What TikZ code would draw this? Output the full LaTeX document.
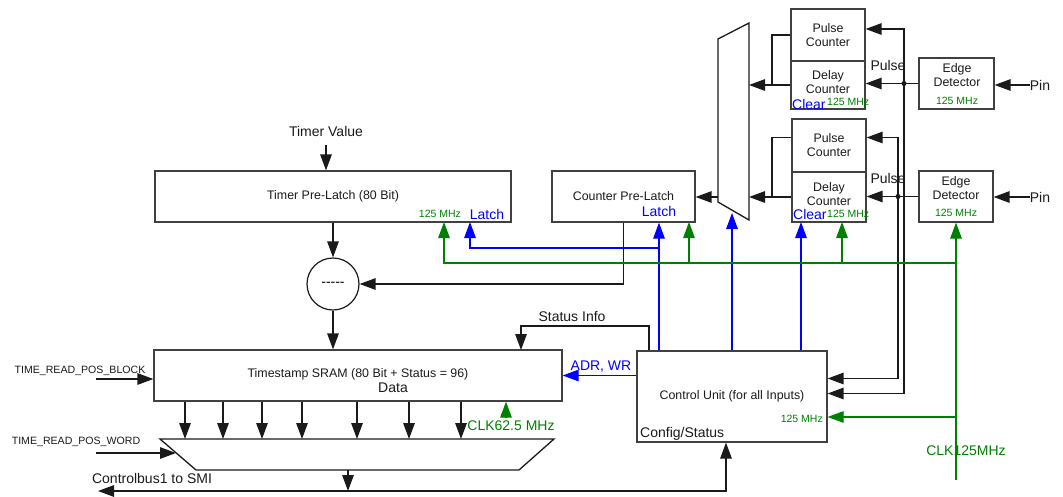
\documentclass[tikz,border=0pt]{standalone}
\usepackage{fontspec}
\setmainfont{Liberation Sans}
\usetikzlibrary{arrows.meta}
\definecolor{tsBlack}{HTML}{1A1A1A}
\definecolor{tsEdge}{HTML}{404040}
\definecolor{tsGreen}{HTML}{008000}
\definecolor{tsBlue}{HTML}{0000FF}
\tikzset{
  ts text/.style={inner sep=0pt, align=center, text=tsBlack, font=\fontsize{12.4}{14}\selectfont},
  ts box/.style={ts text, draw=tsEdge, line width=1.2pt},
  ts label/.style={inner sep=0pt, text=tsBlack, font=\fontsize{14}{16}\selectfont},
  ts blue label/.style={ts label, text=tsBlue},
  ts small/.style={inner sep=0pt, text=tsGreen, font=\fontsize{10.5}{12}\selectfont},
  ts sig/.style={inner sep=0pt, text=tsBlack, font=\fontsize{10.6}{12}\selectfont},
  ts wire/.style={draw=tsBlack, line width=1.3pt},
  ts arrow/.style={ts wire, -{Triangle[length=16pt,width=11.5pt]}},
  ts clk/.style={draw=tsGreen, line width=1.2pt, -{Triangle[length=16pt,width=11.5pt]}},
  ts latch/.style={draw=tsBlue, line width=1.2pt, -{Triangle[length=16pt,width=11.5pt]}},
}

\begin{document}
\begin{tikzpicture}[x=1pt,y=-1pt]
\useasboundingbox (0,0) rectangle (1063,496);
% timer side
\node[ts label](tv)at(326,131){Timer Value};
\node[ts box,minimum width=356pt,minimum height=51pt](tpl)at(333,196.5){Timer Pre-Latch (80 Bit)};
\node[ts small](tplclk)at(440,214){125 MHz};\node[ts blue label](tpllat)at(487,214){Latch};
\node[circle,draw=tsBlack,line width=1.2pt,minimum size=52pt,inner sep=0pt,font=\fontsize{14}{16}\selectfont](sub)at(333,284){-{}-{}-{}-{}-};
\node[ts box,minimum width=143pt,minimum height=51pt](cpl)at(623.5,196.5){Counter Pre-Latch};
\node[ts blue label](cpllat)at(659,211){Latch};
% input mux
\coordinate(m1)at(718,39);\coordinate(m2)at(749,23);\coordinate(m3)at(749,220);\coordinate(m4)at(718,202);
\draw[ts wire](m1)--(m2)--(m3)--(m4)--cycle;
% counters, input 1 and 2
\node[ts box,minimum width=74pt,minimum height=52pt](pc1)at(828,35){Pulse\\Counter};
\node[ts box,minimum width=74pt,minimum height=48pt](dc1)at(828,85){};
\node[ts text](dc1txt)at(828,82){Delay\\Counter};
\node[ts blue label,anchor=west](clr1)at(792,104.5){Clear};\node[ts small,anchor=west](dcclk1)at(827,102){125 MHz};
\node[ts box,minimum width=74pt,minimum height=53pt](pc2)at(829,145.5){Pulse\\Counter};
\node[ts box,minimum width=74pt,minimum height=50pt](dc2)at(829,197){};
\node[ts text](dc2txt)at(829,194.5){Delay\\Counter};
\node[ts blue label,anchor=west](clr2)at(793,214.5){Clear};\node[ts small,anchor=west](dcclk2)at(827,214){125 MHz};
\node[ts box,minimum width=75pt,minimum height=51pt](ed1)at(956.5,83.5){};
\node[ts text](ed1txt)at(957,75.5){Edge\\Detector};\node[ts small](ed1clk)at(957,101){125 MHz};
\node[ts box,minimum width=74pt,minimum height=51pt](ed2)at(956,196.5){};
\node[ts text](ed2txt)at(956,188.5){Edge\\Detector};\node[ts small](ed2clk)at(956,213){125 MHz};
\node[ts label](pin1)at(1040,85){Pin};\node[ts label](pin2)at(1040,197){Pin};
\node[ts label](pul1)at(888,65){Pulse};\node[ts label](pul2)at(888,178){Pulse};
% sram and output mux
\node[ts box,minimum width=408pt,minimum height=51pt](sram)at(358,375.5){};
\node[ts text](sramtxt)at(358,374){Timestamp SRAM (80 Bit + Status = 96)};
\node[ts label](data)at(393,388){Data};
\node[ts sig](trb)at(80,371){TIME\_READ\_POS\_BLOCK};\node[ts sig](trw)at(76,442){TIME\_READ\_POS\_WORD};
\node[ts label,text=tsGreen](clk62)at(511,426){CLK62.5 MHz};
\coordinate(b1)at(160,439);\coordinate(b2)at(554,439);\coordinate(b3)at(519,470);\coordinate(b4)at(196,470);
\draw[ts wire](b1)--(b2)--(b3)--(b4)--cycle;
\node[ts label](cbus)at(152,478){Controlbus1 to SMI};
% control unit
\node[ts box,minimum width=190pt,minimum height=91pt](cu)at(732,396.5){Control Unit (for all Inputs)};
\node[ts label,anchor=base west](cfg)at(640,437){Config/Status};
\node[ts small,anchor=east](cuclk)at(823,419){125 MHz};
\node[ts label](sinfo)at(572,316){Status Info};\node[ts blue label](adr)at(601,367){ADR, WR};
\node[ts label,text=tsGreen](clk125)at(966,451){CLK125MHz};

% data path
\draw[ts arrow,shorten <=9pt](tv)--(tv |- tpl.north);
\draw[ts arrow](tpl)--(sub);\draw[ts arrow](sub)--(sub |- sram.north);
\draw[ts arrow](cpl.south)|-(sub.east);
\coordinate(mo)at(718,197);\draw[ts arrow](mo)--(cpl.east |- mo);
\coordinate(j1)at(772,85);\coordinate(mi1)at(749,85);
\draw[ts wire](pc1.west)-|(j1);\draw[ts arrow](dc1.west)--(mi1);
\coordinate(j2)at(772,197);\coordinate(mi2)at(749,197);
\draw[ts wire]([yshift=8pt]pc2.west)-|(j2);\draw[ts arrow](dc2.west)--(mi2);
\draw[ts arrow](pin1)--(ed1.east |- pin1);\draw[ts arrow](pin2)--(ed2.east |- pin2);
\coordinate(p1)at(904,83.5);\coordinate(p2)at(898,196.5);
\draw[ts arrow](ed1.west)--(ed1.west -| dc1.east);\draw[ts arrow](ed2.west)--(ed2.west -| dc2.east);
\draw[ts arrow](p1)|-([yshift=6pt]pc1.east);\draw[ts arrow](p1)|-([yshift=3pt]cu.east);
\draw[ts arrow](p2)|-([yshift=8pt]pc2.east);\draw[ts arrow](p2)|-([yshift=18pt]cu.east);
\fill[tsBlack](p1)circle(2.5pt);\fill[tsBlack](p2)circle(2.5pt);
\coordinate(trbs)at(96,379);\draw[ts arrow](trbs)--(trbs -| sram.west);
\coordinate(trws)at(96,453);\coordinate(trwe)at(176,453);\draw[ts arrow](trws)--(trwe);
\foreach \x in {185,223,262,302,357,409,461}
  \draw[ts arrow](sram.south -| \x,0)--(b1 -| \x,0);
\coordinate(c62)at(506,418);\draw[ts clk](c62)--(c62 |- sram.south);
\coordinate(si)at(649,326);\coordinate(sin)at(521,350);
\draw[ts arrow](si |- cu.north)--(si)-|(sin);
\coordinate(cb)at(98,491);\coordinate(bo)at(348,470);
\draw[ts wire,{Triangle[length=16pt,width=11.5pt]}-{Triangle[length=16pt,width=11.5pt]}](cb)-|([xshift=-6pt]cu.south);
\draw[ts arrow](bo)--(bo |- cb);
% latch and clear
\draw[ts latch](cu.west |- sram.east)--(sram.east);
\draw[ts latch](cu.north -| cpllat)--(cpllat |- cpl.south);
\coordinate(lb)at(659,248);\coordinate(tl)at(470,222);\draw[ts latch](lb)-|(tl);
\coordinate(mb)at(732,213);\draw[ts latch](cu.north)--(mb);
\coordinate(cb2)at(801,222);\draw[ts latch](cu.north -| cb2)--(cb2);
% clock 125 MHz
\coordinate(g0)at(956,480);\coordinate(gh)at(956,263);
\draw[ts clk](g0)--(ed2.south);
\coordinate(tck)at(444,222);\draw[ts clk](gh)-|(tck);
\coordinate(cck)at(689,222);\draw[ts clk](cck |- gh)--(cck);
\coordinate(dck)at(842,222);\draw[ts clk](dck |- gh)--(dck);
\coordinate(gc)at(956,417);\draw[ts clk](gc)--(gc -| cu.east);
\end{tikzpicture}
\end{document}
